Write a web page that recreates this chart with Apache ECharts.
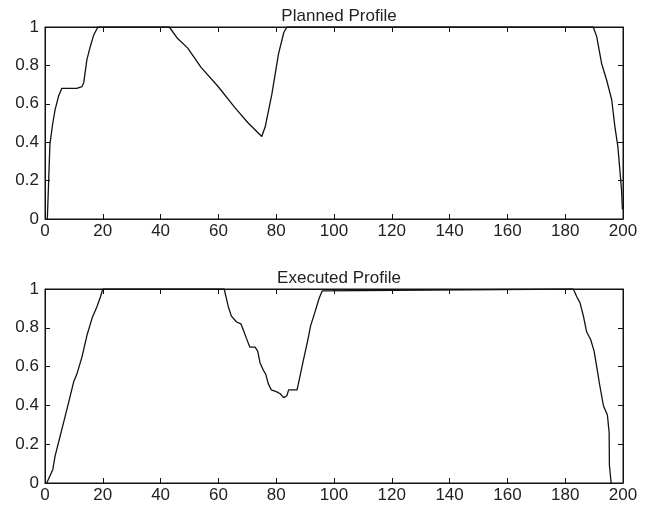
<!DOCTYPE html>
<html>
<head>
<meta charset="utf-8">
<script src="https://cdn.jsdelivr.net/npm/echarts@6/dist/echarts.min.js"></script>
<style>
  html, body { margin: 0; padding: 0; background: #fff; }
  #main { width: 653px; height: 507px; }
</style>
</head>
<body>
<div id="main"></div>
<script>
// planned profile
var plannedX = [0.8, 1.2, 1.7, 2.7, 3.5, 4.7, 5.8, 11, 12.8, 13.4, 14.5, 15.7, 16.9, 18.3,
  43, 45.9, 49.4, 54, 59.9, 65.7, 70.3, 75, 76.2, 78.5, 80.8, 82.6, 83.7,
  189.7, 190.9, 192.6, 194.4, 196.1, 197.2, 198.2, 199, 199.5, 199.8];
var plannedY = [0, 0.17, 0.39, 0.5, 0.57, 0.64, 0.68, 0.68, 0.69, 0.71, 0.83, 0.9, 0.96, 1,
  1, 0.94, 0.89, 0.79, 0.69, 0.58, 0.5, 0.43, 0.48, 0.65, 0.86, 0.97, 1,
  1, 0.95, 0.81, 0.72, 0.62, 0.48, 0.38, 0.24, 0.15, 0.05];

// executed profile (bottom panel)
var executedX = [0.6, 1.5, 2.7, 3.5, 4.7, 6.4, 8.1, 9.9, 11, 12.8, 14.5, 16.3, 18, 19.2, 20,
  62, 63.4, 64.5, 66.3, 67.8, 68.6, 70.1, 70.9, 72.7, 73.6, 74.4, 75.6, 76.4, 77.3, 78.3,
  80.2, 81.4, 82.6, 83.7, 84.3, 87.2, 87.8, 89.5, 90.7, 91.9, 93.6, 94.8, 95.9, 96.3,
  182.8, 184, 185.1, 186.3, 187.4, 188.8, 190, 190.9, 192, 193.2, 194.6, 195.2, 195.3, 195.8, 195.9];
var executedY = [0, 0.03, 0.07, 0.14, 0.21, 0.31, 0.41, 0.52, 0.56, 0.65, 0.76, 0.85, 0.91, 0.96, 1,
  1, 0.91, 0.86, 0.83, 0.82, 0.79, 0.73, 0.7, 0.7, 0.68, 0.62, 0.58, 0.56, 0.51, 0.48,
  0.47, 0.46, 0.44, 0.45, 0.48, 0.48, 0.52, 0.64, 0.72, 0.81, 0.89, 0.95, 0.99, 1,
  1, 0.96, 0.93, 0.86, 0.78, 0.74, 0.68, 0.6, 0.5, 0.4, 0.35, 0.26, 0.09, 0.08, 0];

var titles = ['Planned Profile', 'Executed Profile'];

function pairs(xs, ys) {
  var out = [];
  for (var i = 0; i < xs.length; i++) {
    out.push([xs[i], ys[i]]);
  }
  return out;
}

var fontFam = '"Liberation Sans", Arial, Helvetica, sans-serif';
var txtColor = '#222';

// one side of the box; labels only on left/bottom
function xAx(grid, pos, labels) {
  return {
    type: 'value', gridIndex: grid, position: pos,
    min: 0, max: 200, interval: 20,
    axisLine: { show: true, onZero: false, lineStyle: { color: '#111', width: 1 } },
    axisTick: { show: true, inside: true, length: 5, lineStyle: { color: '#111' } },
    axisLabel: { show: labels, margin: 4, color: txtColor, fontSize: 17, fontFamily: fontFam },
    splitLine: { show: false }
  };
}
function yAx(grid, pos, labels) {
  return {
    type: 'value', gridIndex: grid, position: pos,
    min: 0, max: 1, interval: 0.2,
    axisLine: { show: true, onZero: false, lineStyle: { color: '#111', width: 1 } },
    axisTick: { show: true, inside: true, length: 5, lineStyle: { color: '#111' } },
    axisLabel: { show: labels, margin: 6, color: txtColor, fontSize: 17, fontFamily: fontFam },
    splitLine: { show: false }
  };
}

// empty series so the top/right axes get drawn
function dummy(xi, yi) {
  return { type: 'line', xAxisIndex: xi, yAxisIndex: yi, data: [], silent: true };
}

var chart = echarts.init(document.getElementById('main'));
var option = {
  backgroundColor: '#fff',
  animation: false,
  title: [
    { text: titles[0], left: 334, top: 3, textAlign: 'center',
      textStyle: { fontSize: 17, fontWeight: 'normal', color: txtColor, fontFamily: fontFam } },
    { text: titles[1], left: 334, top: 265, textAlign: 'center',
      textStyle: { fontSize: 17, fontWeight: 'normal', color: txtColor, fontFamily: fontFam } }
  ],
  grid: [
    { left: 45, top: 27, width: 578, height: 192, show: true, borderColor: '#111', borderWidth: 1 },
    { left: 45, top: 289, width: 578, height: 194, show: true, borderColor: '#111', borderWidth: 1 }
  ],
  xAxis: [xAx(0, 'bottom', true), xAx(0, 'top', false), xAx(1, 'bottom', true), xAx(1, 'top', false)],
  yAxis: [yAx(0, 'left', true), yAx(0, 'right', false), yAx(1, 'left', true), yAx(1, 'right', false)],
  series: [
    {
      name: titles[0], type: 'line', xAxisIndex: 0, yAxisIndex: 0,
      data: pairs(plannedX, plannedY), showSymbol: false, symbol: 'none',
      lineStyle: { color: '#111', width: 1.3 }
    },
    {
      name: titles[1], type: 'line', xAxisIndex: 2, yAxisIndex: 2,
      data: pairs(executedX, executedY), showSymbol: false, symbol: 'none',
      lineStyle: { color: '#111', width: 1.3 }
    },
    dummy(1, 1),
    dummy(3, 3)
  ]
};
chart.setOption(option);
</script>
</body>
</html>
